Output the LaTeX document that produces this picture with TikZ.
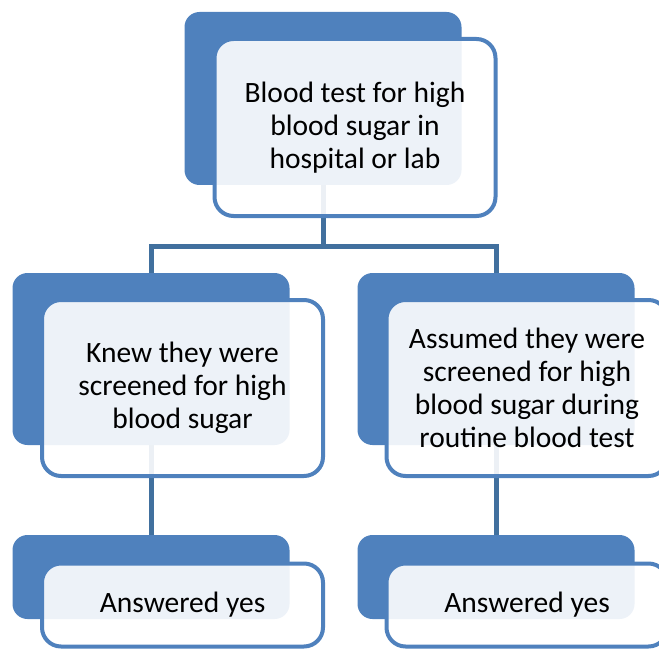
\documentclass[tikz,border=0pt]{standalone}
\usepackage{fontspec}
\setmainfont{Carlito}
\usetikzlibrary{backgrounds}
\definecolor{boxblue}{HTML}{4F81BD}
\definecolor{linkblue}{HTML}{41709E}

\begin{document}
\begin{tikzpicture}[x=1pt,y=-1pt,
  back/.style={fill=boxblue,rounded corners=15pt,inner sep=0pt,outer sep=0pt,minimum width=277pt},
  front/.style={draw=boxblue,line width=4pt,fill=white,fill opacity=0.9,text opacity=1,
    rounded corners=19pt,inner sep=0pt,outer sep=0pt,minimum width=281pt,
    align=center,font=\fontsize{29.5pt}{33pt}\selectfont},
  link/.style={draw=linkblue,line width=5pt}]
  \useasboundingbox (0,0) rectangle (659,650);
  \clip (0,0) rectangle (659,650);

  % top box
  \node[back,minimum height=173pt] (topback) at (323,98.5) {};
  \node[front,minimum height=177pt] (topfront) at (355,127.5)
    {Blood test for high\\blood sugar in\\hospital or lab};

  % middle row
  \node[back,minimum height=172pt] (midlback) at (151,359) {};
  \node[front,minimum height=176pt] (midlfront) at (182.5,388)
    {Knew they were\\screened for high\\blood sugar};
  \node[back,minimum height=172pt] (midrback) at (496,359) {};
  \node[front,minimum height=176pt] (midrfront) at (527,388)
    {Assumed they were\\screened for high\\blood sugar during\\routine blood test};

  % bottom row
  \node[back,minimum height=84pt] (botlback) at (151,577) {};
  \node[front,minimum height=83pt] (botlfront) at (182.5,605) {Answered yes};
  \node[back,minimum height=84pt] (botrback) at (496,577) {};
  \node[front,minimum height=83pt] (botrfront) at (527,605) {Answered yes};

  % connectors, behind the boxes
  \coordinate (bar) at (323,246);
  \begin{scope}[on background layer]
    \draw[link] (topback.south) -- (bar);
    \draw[link] (midlback.north) |- (bar) -| (midrback.north);
    \draw[link] (midlback.south) -- (botlback.north);
    \draw[link] (midrback.south) -- (botrback.north);
  \end{scope}
\end{tikzpicture}
\end{document}
